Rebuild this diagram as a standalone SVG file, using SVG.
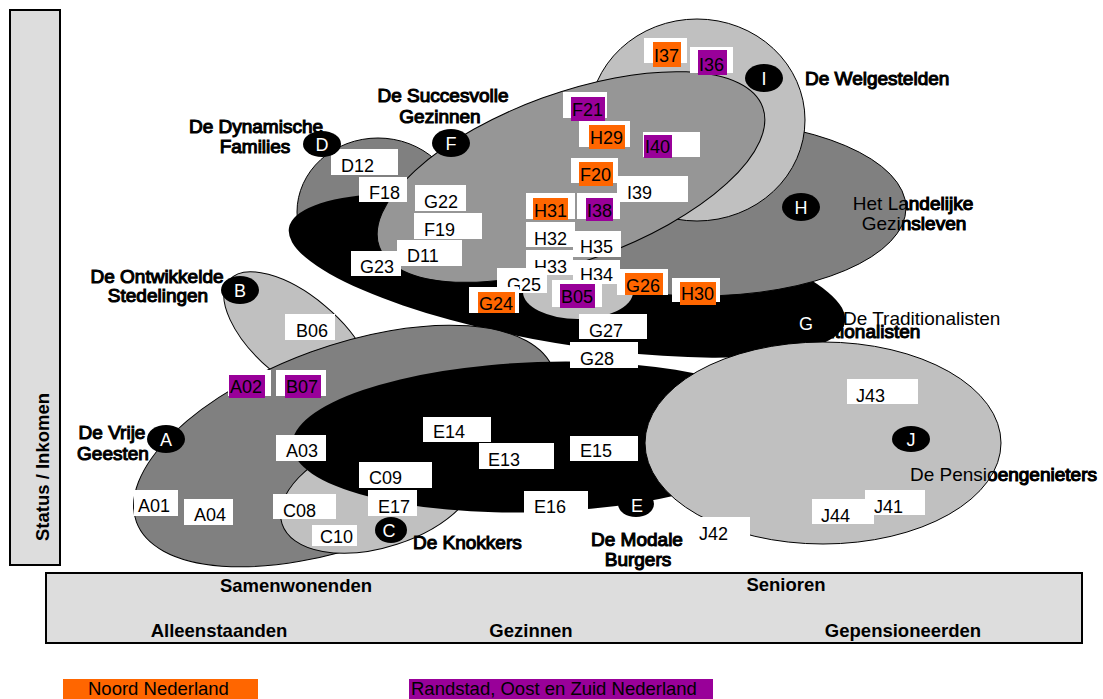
<svg xmlns="http://www.w3.org/2000/svg" xmlns:xlink="http://www.w3.org/1999/xlink" width="1103" height="699" viewBox="0 0 1103 699">
<style>
  text { font-family: "Liberation Sans", Arial, sans-serif; }
  .seg { stroke: #000; stroke-width: 1; }
  .lg { fill: #c0c0c0; }
  .mg { fill: #969696; }
  .dg { fill: #808080; }
  .bk { fill: #000; }
  .box { fill: #fff; }
  .or { fill: #ff6600; }
  .pu { fill: #990099; }
  .code { font-size: 18px; fill: #000; }
  .grp { font-size: 19px; fill: #000; }
  .emb { stroke: #000; stroke-width: 1.1; }
  .circ { fill: #000; }
  .cl { font-size: 18px; fill: #fff; text-anchor: middle; }
  .axis { font-size: 18.5px; font-weight: bold; fill: #000; text-anchor: middle; }
  .frame { fill: #dddddd; stroke: #000; stroke-width: 2; }
  .leg { font-size: 18.5px; fill: #000; }
</style>

<!-- axes -->
<g id="axis-y">
  <rect class="frame" x="10" y="10" width="50" height="555"/>
  <text class="axis" transform="translate(49,467) rotate(-90)">Status / Inkomen</text>
</g>
<g id="axis-x">
  <rect class="frame" x="46" y="573" width="1036" height="70"/>
  <text class="axis" x="296" y="592">Samenwonenden</text>
  <text class="axis" x="786" y="591">Senioren</text>
  <text class="axis" x="219" y="637">Alleenstaanden</text>
  <text class="axis" x="531" y="637">Gezinnen</text>
  <text class="axis" x="903" y="637">Gepensioneerden</text>
</g>

<!-- segment shapes -->
<g id="shapes">
  <ellipse id="shape-D" class="seg dg" cx="378" cy="212" rx="81" ry="74"/>
  <use xlink:href="#t-trad" href="#t-trad" class="emb" x="-80" y="13"/>
  <ellipse id="shape-G" class="bk" cx="567" cy="275" rx="282" ry="69" transform="rotate(9.6 567 275)"/>
  <use xlink:href="#t-land" href="#t-land" class="emb"/>
  <ellipse id="shape-H" class="seg dg" cx="700" cy="208" rx="206" ry="88"/>
  <ellipse id="shape-I" class="seg lg" cx="697" cy="120" rx="108" ry="101"/>
  <ellipse id="shape-F" class="seg mg" cx="571" cy="177" rx="204" ry="84" transform="rotate(-20 571 177)"/>
  <ellipse id="shape-B05" class="lg" cx="578" cy="292" rx="55" ry="27"/>
  <ellipse id="shape-B" class="seg lg" cx="298" cy="338" rx="90" ry="42" transform="rotate(40 298 338)"/>
  <ellipse id="shape-A" class="seg dg" cx="345" cy="446" rx="222" ry="100" transform="rotate(-20 345 446)"/>
  <ellipse id="shape-C" class="seg lg" cx="380" cy="492" rx="103" ry="55" transform="rotate(-18 380 492)"/>
  <ellipse id="shape-E" class="bk" cx="540" cy="437" rx="248" ry="75" transform="rotate(-2 540 437)"/>
  <use xlink:href="#t-pens" href="#t-pens" class="emb"/>
  <ellipse id="shape-J" class="seg lg" cx="823" cy="443" rx="178" ry="101"/>
</g>

<!-- code labels -->
<g id="codes" class="code">
  <g id="c-I37"><rect class="box" x="644" y="38" width="43" height="25"/><rect class="or" x="653" y="42" width="28" height="25"/><text class="code" x="654" y="62">I37</text></g>
  <g id="c-I36"><rect class="box" x="690" y="47" width="43" height="26"/><rect class="pu" x="698" y="50" width="29" height="25"/><text class="code" x="699" y="71">I36</text></g>
  <g id="c-F21"><rect class="box" x="563" y="92" width="44" height="26"/><rect class="pu" x="571" y="97" width="34" height="24"/><text class="code" x="572" y="116">F21</text></g>
  <g id="c-H29"><rect class="box" x="579" y="121" width="51" height="26"/><rect class="or" x="589" y="125" width="36" height="24"/><text class="code" x="590" y="144">H29</text></g>
  <g id="c-I40"><rect class="box" x="643" y="132" width="57" height="25"/><rect class="pu" x="644" y="135" width="28" height="23"/><text class="code" x="645" y="153">I40</text></g>
  <g id="c-F20"><rect class="box" x="571" y="158" width="47" height="25"/><rect class="or" x="579" y="162" width="34" height="24"/><text class="code" x="580" y="181">F20</text></g>
  <g id="c-I39"><rect class="box" x="617" y="176" width="71" height="26"/><text class="code" x="627" y="199">I39</text></g>
  <g id="c-H31"><rect class="box" x="526" y="193" width="49" height="26"/><rect class="or" x="533" y="198" width="35" height="22"/><text class="code" x="534" y="217">H31</text></g>
  <g id="c-I38"><rect class="box" x="577" y="193" width="43" height="26"/><rect class="pu" x="586" y="198" width="27" height="23"/><text class="code" x="587" y="217">I38</text></g>
  <g id="c-H32"><rect class="box" x="526" y="222" width="49" height="25"/><text class="code" x="534" y="245">H32</text></g>
  <g id="c-H35"><rect class="box" x="573" y="231" width="48" height="26"/><text class="code" x="580" y="253">H35</text></g>
  <g id="c-H33"><rect class="box" x="526" y="250" width="47" height="25"/><text class="code" x="534" y="273">H33</text></g>
  <g id="c-H34"><rect class="box" x="573" y="260" width="47" height="24"/><text class="code" x="580" y="281">H34</text></g>
  <g id="c-G25"><rect class="box" x="497" y="268" width="50" height="25"/><text class="code" x="507" y="291">G25</text></g>
  <g id="c-G24"><rect class="box" x="469" y="287" width="50" height="26"/><rect class="or" x="478" y="292" width="37" height="21"/><text class="code" x="479" y="310">G24</text></g>
  <g id="c-B05"><rect class="box" x="552" y="280" width="50" height="27"/><rect class="pu" x="560" y="284" width="35" height="24"/><text class="code" x="561" y="303">B05</text></g>
  <g id="c-G26"><rect class="box" x="617" y="269" width="51" height="26"/><rect class="or" x="625" y="273" width="38" height="22"/><text class="code" x="626" y="292">G26</text></g>
  <g id="c-H30"><rect class="box" x="672" y="278" width="48" height="24"/><rect class="or" x="680" y="282" width="36" height="23"/><text class="code" x="681" y="300">H30</text></g>
  <g id="c-D12"><rect class="box" x="331" y="149" width="67" height="26"/><text class="code" x="341" y="172">D12</text></g>
  <g id="c-F18"><rect class="box" x="359" y="177" width="48" height="25"/><text class="code" x="369" y="199">F18</text></g>
  <g id="c-G22"><rect class="box" x="415" y="185" width="51" height="26"/><text class="code" x="424" y="208">G22</text></g>
  <g id="c-F19"><rect class="box" x="414" y="213" width="68" height="26"/><text class="code" x="424" y="236">F19</text></g>
  <g id="c-D11"><rect class="box" x="397" y="240" width="65" height="26"/><text class="code" x="407" y="262">D11</text></g>
  <g id="c-G23"><rect class="box" x="351" y="251" width="50" height="25"/><text class="code" x="360" y="273">G23</text></g>
  <g id="c-B06"><rect class="box" x="285" y="314" width="50" height="26"/><text class="code" x="296" y="337">B06</text></g>
  <g id="c-A02"><rect class="box" x="228" y="370" width="43" height="26"/><rect class="pu" x="229" y="375" width="36" height="23"/><text class="code" x="230" y="393">A02</text></g>
  <g id="c-B07"><rect class="box" x="276" y="370" width="50" height="26"/><rect class="pu" x="285" y="375" width="36" height="23"/><text class="code" x="286" y="393">B07</text></g>
  <g id="c-A03"><rect class="box" x="276" y="435" width="50" height="26"/><text class="code" x="286" y="457">A03</text></g>
  <g id="c-C09"><rect class="box" x="359" y="462" width="73" height="26"/><text class="code" x="369" y="484">C09</text></g>
  <g id="c-A01"><rect class="box" x="134" y="490" width="44" height="26"/><text class="code" x="138" y="512">A01</text></g>
  <g id="c-A04"><rect class="box" x="184" y="499" width="49" height="26"/><text class="code" x="194" y="521">A04</text></g>
  <g id="c-C08"><rect class="box" x="273" y="494" width="63" height="25"/><text class="code" x="283" y="517">C08</text></g>
  <g id="c-E17"><rect class="box" x="368" y="490" width="49" height="26"/><text class="code" x="378" y="513">E17</text></g>
  <g id="c-C10"><rect class="box" x="312" y="525" width="45" height="21"/><text class="code" x="320" y="543">C10</text></g>
  <g id="c-E14"><rect class="box" x="423" y="417" width="68" height="25"/><text class="code" x="433" y="438">E14</text></g>
  <g id="c-E13"><rect class="box" x="479" y="443" width="75" height="26"/><text class="code" x="488" y="466">E13</text></g>
  <g id="c-E15"><rect class="box" x="570" y="436" width="68" height="25"/><text class="code" x="580" y="457">E15</text></g>
  <g id="c-E16"><rect class="box" x="524" y="491" width="64" height="25"/><text class="code" x="534" y="513">E16</text></g>
  <g id="c-G27"><rect class="box" x="579" y="314" width="68" height="25"/><text class="code" x="589" y="337">G27</text></g>
  <g id="c-G28"><rect class="box" x="570" y="342" width="68" height="26"/><text class="code" x="580" y="365">G28</text></g>
  <g id="c-J43"><rect class="box" x="847" y="379" width="71" height="25"/><text class="code" x="856" y="402">J43</text></g>
  <g id="c-J41"><rect class="box" x="865" y="490" width="60" height="25"/><text class="code" x="874" y="513">J41</text></g>
  <g id="c-J44"><rect class="box" x="812" y="499" width="62" height="25"/><text class="code" x="821" y="522">J44</text></g>
  <g id="c-J42"><rect class="box" x="693" y="517" width="57" height="26"/><text class="code" x="699" y="540">J42</text></g>
</g>

<!-- segment names -->
<g id="names">
  <text class="grp emb" text-anchor="middle"><tspan x="443" y="102">De Succesvolle</tspan><tspan x="440" y="123">Gezinnen</tspan></text>
  <text class="grp emb" text-anchor="middle"><tspan x="256" y="133">De Dynamische</tspan><tspan x="255" y="153">Families</tspan></text>
  <text class="grp emb" text-anchor="middle"><tspan x="157" y="283">De Ontwikkelde</tspan><tspan x="158" y="302">Stedelingen</tspan></text>
  <text class="grp emb" text-anchor="middle"><tspan x="112" y="439">De Vrije</tspan><tspan x="113" y="460">Geesten</tspan></text>
  <text class="grp emb" x="413" y="549">De Knokkers</text>
  <text class="grp emb" text-anchor="middle"><tspan x="637" y="546">De Modale</tspan><tspan x="638" y="566">Burgers</tspan></text>
  <text class="grp emb" x="805" y="85">De Welgestelden</text>
  <text id="t-land" class="grp" text-anchor="middle"><tspan x="913" y="210">Het Landelijke</tspan><tspan x="914" y="230">Gezinsleven</tspan></text>
  <text id="t-trad" class="grp" x="843" y="325">De Traditionalisten</text>
  <text id="t-pens" class="grp" x="910" y="481">De Pensioengenieters</text>
</g>

<!-- segment letters -->
<g id="letters">
  <g id="n-A"><ellipse class="circ" cx="166" cy="439" rx="19" ry="14"/><text class="cl" x="166" y="446">A</text></g>
  <g id="n-B"><ellipse class="circ" cx="240" cy="290" rx="19" ry="14"/><text class="cl" x="240" y="297">B</text></g>
  <g id="n-C"><ellipse class="circ" cx="391" cy="530" rx="16" ry="13"/><text class="cl" x="389" y="537">C</text></g>
  <g id="n-D"><ellipse class="circ" cx="322" cy="144" rx="19" ry="13"/><text class="cl" x="322" y="151">D</text></g>
  <g id="n-E"><ellipse class="circ" cx="636" cy="504" rx="18" ry="13"/><text class="cl" x="637" y="512">E</text></g>
  <g id="n-F"><ellipse class="circ" cx="451" cy="143" rx="19" ry="14"/><text class="cl" x="451" y="150">F</text></g>
  <g id="n-G"><ellipse class="circ" cx="806" cy="323" rx="19" ry="14"/><text class="cl" x="806" y="330">G</text></g>
  <g id="n-H"><ellipse class="circ" cx="801" cy="207" rx="19" ry="14"/><text class="cl" x="801" y="214">H</text></g>
  <g id="n-I"><ellipse class="circ" cx="764" cy="78" rx="19" ry="14"/><text class="cl" x="764" y="85">I</text></g>
  <g id="n-J"><ellipse class="circ" cx="911" cy="439" rx="19" ry="13"/><text class="cl" x="911" y="446">J</text></g>
</g>

<!-- legend -->
<g id="legend">
  <rect class="or" x="63" y="679" width="195" height="25"/>
  <text class="leg" x="88" y="695">Noord Nederland</text>
  <rect class="pu" x="409" y="679" width="304" height="25"/>
  <text class="leg" x="411" y="695">Randstad, Oost en Zuid Nederland</text>
</g>
</svg>
